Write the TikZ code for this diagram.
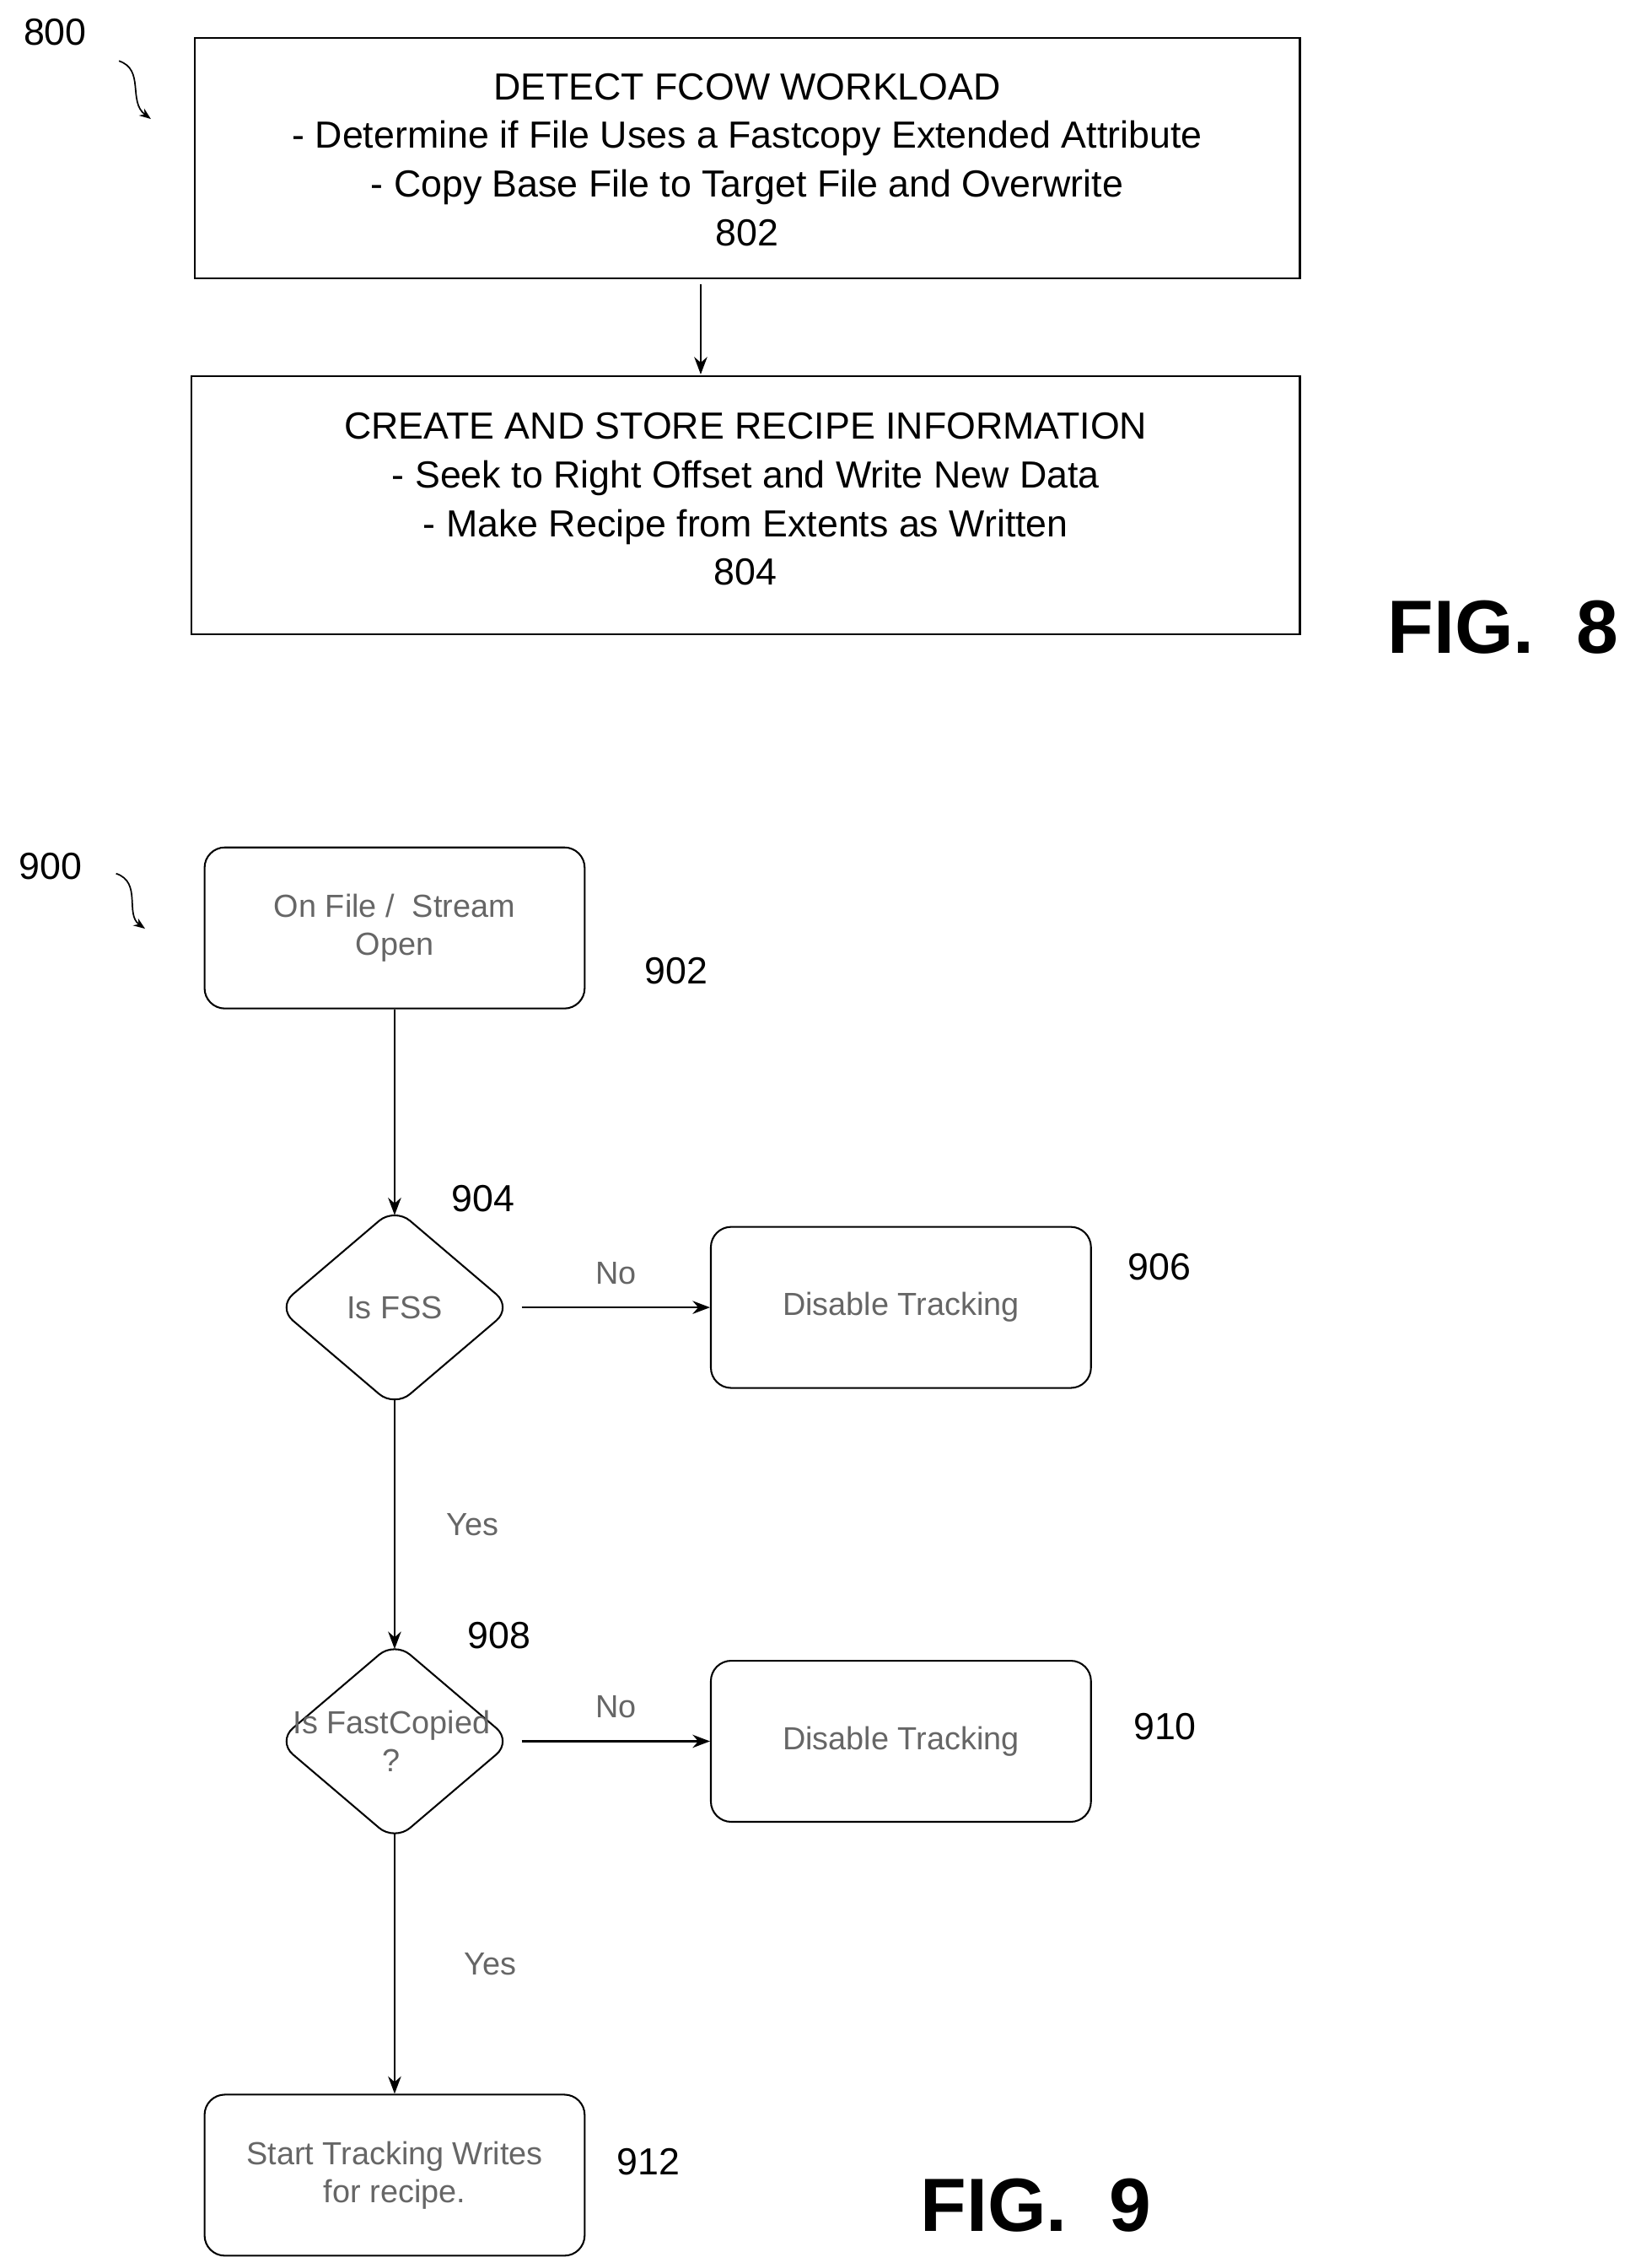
\documentclass[tikz,border=0pt]{standalone}
\usepackage{fontspec}
\setmainfont{Liberation Sans}
\usetikzlibrary{arrows.meta,shapes.geometric}
\begin{document}
\begin{tikzpicture}[x=1pt,y=-1pt,
  box/.style={draw,line width=1.2pt,inner sep=0pt},
  rbox/.style={draw,line width=1.2pt,rounded corners=14pt,minimum width=262pt,minimum height=111pt,align=center,text=black!60,font=\fontsize{22}{26}\selectfont},
  dia/.style={draw,line width=1.2pt,diamond,rounded corners=14pt,minimum width=162pt,minimum height=138pt,inner sep=0pt,align=center,text=black!60,font=\fontsize{22}{26}\selectfont},
  arr/.style={line width=1.2pt,-{Stealth[length=12pt,width=9pt]}},
  lbl/.style={font=\fontsize{26}{30}\selectfont},
  gl/.style={text=black!60,font=\fontsize{22}{26}\selectfont},
  big/.style={font=\bfseries\fontsize{52}{60}\selectfont}]
\useasboundingbox (0,0) rectangle (1131,1563);
% FIG 8
\draw[box] (134,26) rectangle (896,192);
\node[lbl] (t802) at (515,110) [align=center,font=\fontsize{26}{33.5}\selectfont] {DETECT FCOW WORKLOAD\\- Determine if File Uses a Fastcopy Extended Attribute\\- Copy Base File to Target File and Overwrite\\802};
\draw[box] (132,259) rectangle (896,437);
\node[lbl] (t804) at (514,344) [align=center,font=\fontsize{26}{33.5}\selectfont] {CREATE AND STORE RECIPE INFORMATION\\- Seek to Right Offset and Write New Data\\- Make Recipe from Extents as Written\\804};
\coordinate (a1) at (483,196); \coordinate (a2) at (483,258);
\draw[arr] (a1) -- (a2);
\node[big] (f8) at (1036,432) {FIG.\ \ 8};
\node[lbl] (n800) at (38,22) {800};
\coordinate (s1) at (82,42); \coordinate (s2) at (104,82);
\draw[line width=1pt,-{Stealth[length=8pt]}] (s1) .. controls (100,48) and (88,70) .. (s2);
% FIG 9
\node[lbl] (n900) at (35,597) {900};
\coordinate (s3) at (80,602); \coordinate (s4) at (100,640);
\draw[line width=1pt,-{Stealth[length=8pt]}] (s3) .. controls (98,608) and (86,630) .. (s4);
\node[rbox] (b902) at (272,639.5) {On File /\ \ Stream\\Open};
\node[lbl] (l902) at (466,669) {902};
\node[dia] (d904) at (272,901) {Is FSS};
\node[lbl] (l904) at (333,826) {904};
\node[rbox] (b906) at (621,901) {Disable Tracking};
\node[lbl] (l906) at (799,873) {906};
\node[dia] (d908) at (272,1200) {};
\node[gl] (t908) at (270,1200) [align=center] {Is FastCopied\\?};
\node[lbl] (l908) at (344,1127) {908};
\node[rbox] (b910) at (621,1200) {Disable Tracking};
\node[lbl] (l910) at (803,1190) {910};
\node[rbox] (b912) at (272,1499) {Start Tracking Writes\\for recipe.};
\node[lbl] (l912) at (447,1490) {912};
\draw[arr] (b902.south) -- ([yshift=-6pt]d904.north);
\draw[arr] ([xshift=6pt]d904.east) -- (b906.west) node[midway,above=12pt,gl] {No};
\draw[arr] ([yshift=6pt]d904.south) -- ([yshift=-6pt]d908.north) node[midway,right=32pt,gl] {Yes};
\draw[arr] ([xshift=6pt]d908.east) -- (b910.west) node[midway,above=12pt,gl] {No};
\draw[arr] ([yshift=6pt]d908.south) -- (b912.north) node[midway,right=44pt,gl] {Yes};
\node[big] (f9) at (714,1520) {FIG.\ \ 9};
\end{tikzpicture}
\end{document}
